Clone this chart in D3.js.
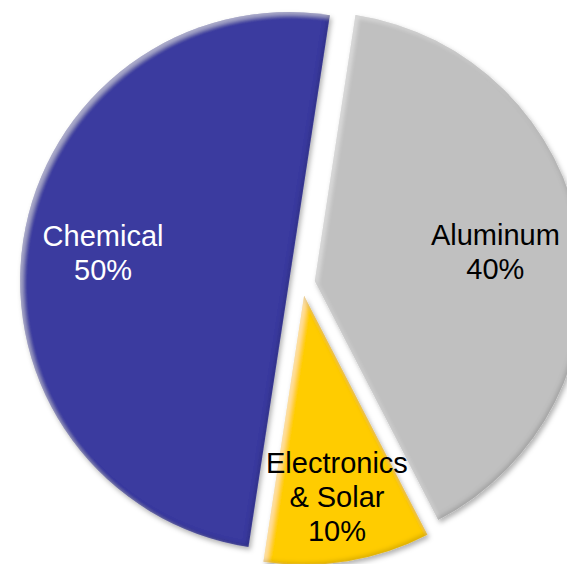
<!DOCTYPE html>
<html>
<head>
<meta charset="utf-8">
<script src="https://cdn.jsdelivr.net/npm/d3@7"></script>
<style>
  html, body { margin: 0; padding: 0; background: #ffffff; }
  svg { display: block; }
</style>
</head>
<body>
<svg id="chart" width="567" height="564"></svg>
<script>
// Market share by end use
const categories = ["Aluminum", "Electronics & Solar", "Chemical"];
const labelLines = [["Aluminum"], ["Electronics", "& Solar"], ["Chemical"]];
const shares = [40, 10, 50];

// Styling
const sliceColors = ["#c0c0c0", "#ffcc00", "#3a3a9f"];
const textColors = ["#000000", "#000000", "#ffffff"];
const labelRadiusFactor = [0.68, 0.755, 0.70];

const width = 567, height = 564;
const cx = 302, cy = 283;
const radius = 269;
const explode = 13;
const rotation = 8.7 * Math.PI / 180;
const fontSize = 29, lineHeight = 34;

const svg = d3.select("#chart");
const defs = svg.append("defs");

// Narrow bevel plus soft drop shadow
const f = defs.append("filter").attr("id", "bevel")
  .attr("x", "-10%").attr("y", "-10%").attr("width", "120%").attr("height", "120%");
f.append("feGaussianBlur").attr("in", "SourceAlpha").attr("stdDeviation", 2).attr("result", "blur");
f.append("feOffset").attr("in", "blur").attr("dx", 2.5).attr("dy", 2.5).attr("result", "blurDown");
f.append("feOffset").attr("in", "blur").attr("dx", -2.5).attr("dy", -2.5).attr("result", "blurUp");
f.append("feComposite").attr("in", "SourceAlpha").attr("in2", "blurDown").attr("operator", "out").attr("result", "hlMask");
f.append("feComposite").attr("in", "SourceAlpha").attr("in2", "blurUp").attr("operator", "out").attr("result", "shMask");
f.append("feFlood").attr("flood-color", "#ffffff").attr("flood-opacity", 0.4).attr("result", "white");
f.append("feComposite").attr("in", "white").attr("in2", "hlMask").attr("operator", "in").attr("result", "highlight");
f.append("feFlood").attr("flood-color", "#000000").attr("flood-opacity", 0.3).attr("result", "black");
f.append("feComposite").attr("in", "black").attr("in2", "shMask").attr("operator", "in").attr("result", "shade");
f.append("feGaussianBlur").attr("in", "SourceAlpha").attr("stdDeviation", 2.5).attr("result", "dsBlur");
f.append("feOffset").attr("in", "dsBlur").attr("dx", 2).attr("dy", 3).attr("result", "dsOff");
f.append("feFlood").attr("flood-color", "#000000").attr("flood-opacity", 0.3).attr("result", "dsCol");
f.append("feComposite").attr("in", "dsCol").attr("in2", "dsOff").attr("operator", "in").attr("result", "drop");
const merge = f.append("feMerge");
["drop", "SourceGraphic", "highlight", "shade"].forEach(n => merge.append("feMergeNode").attr("in", n));

const data = categories.map((c, i) => ({
  name: c, lines: labelLines[i], value: shares[i],
  color: sliceColors[i], text: textColors[i], lr: labelRadiusFactor[i]
}));

const pie = d3.pie().sort(null).value(d => d.value)
  .startAngle(rotation).endAngle(rotation + 2 * Math.PI);
const arcs = pie(data);
const arc = d3.arc().innerRadius(0).outerRadius(radius);

const root = svg.append("g").attr("transform", `translate(${cx},${cy})`);

function offsetOf(a) {
  const mid = (a.startAngle + a.endAngle) / 2;
  return [Math.sin(mid) * explode, -Math.cos(mid) * explode];
}

root.selectAll("path.slice").data(arcs).join("path")
  .attr("class", "slice")
  .attr("d", arc)
  .attr("fill", d => d.data.color)
  .attr("filter", "url(#bevel)")
  .attr("transform", d => { const o = offsetOf(d); return `translate(${o[0]},${o[1]})`; });

// Labels: category name lines plus percentage
const labels = root.selectAll("text.label").data(arcs).join("text")
  .attr("class", "label")
  .attr("text-anchor", "middle")
  .attr("font-family", "Liberation Sans, Arial, sans-serif")
  .attr("font-size", fontSize)
  .attr("fill", d => d.data.text);

labels.each(function(d) {
  const o = offsetOf(d);
  const mid = (d.startAngle + d.endAngle) / 2;
  const lr = radius * d.data.lr;
  const x = o[0] + Math.sin(mid) * lr;
  const y = o[1] - Math.cos(mid) * lr;
  const lines = d.data.lines.concat([d3.format(".0f")(d.value) + "%"]);
  const n = lines.length;
  d3.select(this).selectAll("tspan").data(lines).join("tspan")
    .attr("x", x)
    .attr("y", (t, i) => y + (i - (n - 1) / 2) * lineHeight + 0.36 * fontSize)
    .text(t => t);
});
</script>
</body>
</html>
